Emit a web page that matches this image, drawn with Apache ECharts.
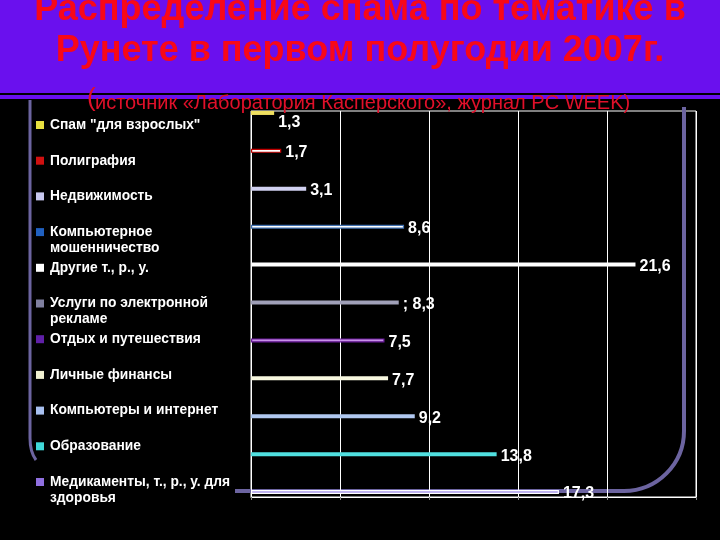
<!DOCTYPE html>
<html>
<head>
<meta charset="utf-8">
<script src="https://cdn.jsdelivr.net/npm/echarts@6/dist/echarts.min.js"></script>
<style>html,body{margin:0;padding:0;background:#000;}#c{width:720px;height:540px;}</style>
</head>
<body>
<div id="c"></div>
<script>
var titleLines = ['Распределение спама по тематике в', 'Рунете в первом полугодии 2007г.'];
var subtitleText = 'источник «Лаборатория Касперского», журнал PC WEEK)';
var categories = ['Спам "для взрослых"', 'Полиграфия', 'Недвижимость', 'Компьютерное\nмошенничество', 'Другие т., р., у.', 'Услуги по электронной\nрекламе', 'Отдых и путешествия', 'Личные финансы', 'Компьютеры и интернет', 'Образование', 'Медикаменты, т., р., у. для\nздоровья'];
var values = [1.3, 1.7, 3.1, 8.6, 21.6, 8.3, 7.5, 7.7, 9.2, 13.8, 17.3];
var valueLabels = ['1,3', '1,7', '3,1', '8,6', '21,6', '; 8,3', '7,5', '7,7', '9,2', '13,8', '17,3'];
var xTicks = [0, 5, 10, 15, 20, 25];

var barColors = ['#f0e060', '#ffffff', '#d0d0f0', '#ffffff', '#ffffff', '#a0a0b8', '#c890e8', '#f8f8e0', '#b0c8f0', '#50e0e0', '#a898e8'];
var barBorders = [null, '#c00000', null, '#4070b0', null, null, '#6a1a9a', null, null, null, '#ffffff'];
var markerColors = ['#e8e040', '#d01010', '#c8c8f0', '#2060c0', '#ffffff', '#8080a0', '#6020a8', '#f0f0d0', '#a8c0f0', '#40d8d8', '#9070e0'];

var chart = echarts.init(document.getElementById('c'));

var barData = values.map(function (v, i) {
  var st = { color: barColors[i] };
  if (barBorders[i]) { st.borderColor = barBorders[i]; st.borderWidth = 1.2; }
  var item = { value: v, itemStyle: st };
  if (i === 0) item.label = { offset: [0, 10] };
  else item.label = { offset: [0, 2] };
  return item;
});

var deco = { stroke: '#6c64a0', fill: null };
var titleFont = 'bold 36px "Liberation Sans", Arial, sans-serif';
var graphics = [
  { type: 'rect', shape: { x: 0, y: 0, width: 720, height: 93 }, style: { fill: '#6a10ee' }, z: 0 },
  { type: 'rect', shape: { x: 0, y: 95, width: 720, height: 4 }, style: { fill: '#6a10ee' }, z: 0 },
  { type: 'line', shape: { x1: 30, y1: 100, x2: 30, y2: 438 }, style: { stroke: deco.stroke, lineWidth: 3 }, z: 0 },
  { type: 'bezierCurve', shape: { x1: 30, y1: 438, cpx1: 30, cpy1: 452, x2: 36, y2: 460 }, style: { stroke: deco.stroke, lineWidth: 3, fill: null }, z: 0 },
  { type: 'line', shape: { x1: 235, y1: 491, x2: 624, y2: 491 }, style: { stroke: deco.stroke, lineWidth: 4 }, z: 0 },
  { type: 'arc', shape: { cx: 624, cy: 431, r: 60, startAngle: 0, endAngle: Math.PI / 2, clockwise: true }, style: { stroke: deco.stroke, lineWidth: 4, fill: null }, z: 0 },
  { type: 'line', shape: { x1: 684, y1: 431, x2: 684, y2: 107 }, style: { stroke: deco.stroke, lineWidth: 4 }, z: 0 },
  { type: 'text', x: 360, y: 10, style: { text: titleLines[0], textAlign: 'center', textVerticalAlign: 'middle', fill: '#f80818', font: titleFont }, z: 1 },
  { type: 'text', x: 360, y: 51, style: { text: titleLines[1], textAlign: 'center', textVerticalAlign: 'middle', fill: '#f80818', font: titleFont }, z: 1 },
  { type: 'text', x: 87, y: 99, style: { text: '(', textAlign: 'left', textVerticalAlign: 'middle', fill: '#e0102a', font: '26px "Liberation Sans", Arial, sans-serif' }, z: 1 },
  { type: 'text', x: 95, y: 103, style: { text: subtitleText, textAlign: 'left', textVerticalAlign: 'middle', fill: '#e0102a', font: '20px "Liberation Sans", Arial, sans-serif' }, z: 1 }
];

categories.forEach(function (name, i) {
  var cy = 125 + i * 35.7;
  graphics.push({ type: 'rect', shape: { x: 36, y: cy - 4, width: 8, height: 8 }, style: { fill: markerColors[i] }, z: 1 });
  graphics.push({ type: 'text', x: 50, y: cy - 8, style: { text: name, textAlign: 'left', textVerticalAlign: 'top', fill: '#ffffff', font: 'bold 13.8px "Liberation Sans", Arial, sans-serif', lineHeight: 16 }, z: 1 });
});

chart.setOption({
  backgroundColor: '#000000',
  animation: false,
  graphic: graphics,
  grid: [
    { left: 251, right: 24, top: 111, bottom: 43, show: true, borderColor: '#ffffff', borderWidth: 1, backgroundColor: 'transparent' },
    { left: 251, right: 24, top: 94, bottom: 29 }
  ],
  xAxis: [
    { type: 'value', gridIndex: 0, min: xTicks[0], max: xTicks[xTicks.length - 1], interval: xTicks[1] - xTicks[0],
      axisLabel: { show: false }, axisLine: { show: true, lineStyle: { color: '#ffffff' } },
      axisTick: { show: true, length: 3, lineStyle: { color: '#888888' } },
      splitLine: { show: true, lineStyle: { color: '#ffffff', width: 1 } } },
    { type: 'value', gridIndex: 1, min: xTicks[0], max: xTicks[xTicks.length - 1], show: false, splitLine: { show: false } }
  ],
  yAxis: [
    { type: 'value', gridIndex: 0, show: false, splitLine: { show: false } },
    { type: 'category', gridIndex: 1, data: categories, inverse: true, show: false }
  ],
  series: [{
    type: 'bar', xAxisIndex: 1, yAxisIndex: 1, barWidth: 4, z: 3,
    data: barData,
    label: { show: true, position: 'right', distance: 4, color: '#ffffff', fontWeight: 'bold', fontSize: 16, fontFamily: '"Liberation Sans", Arial, sans-serif',
      formatter: function (p) { return valueLabels[p.dataIndex]; } }
  }]
});
</script>
</body>
</html>
